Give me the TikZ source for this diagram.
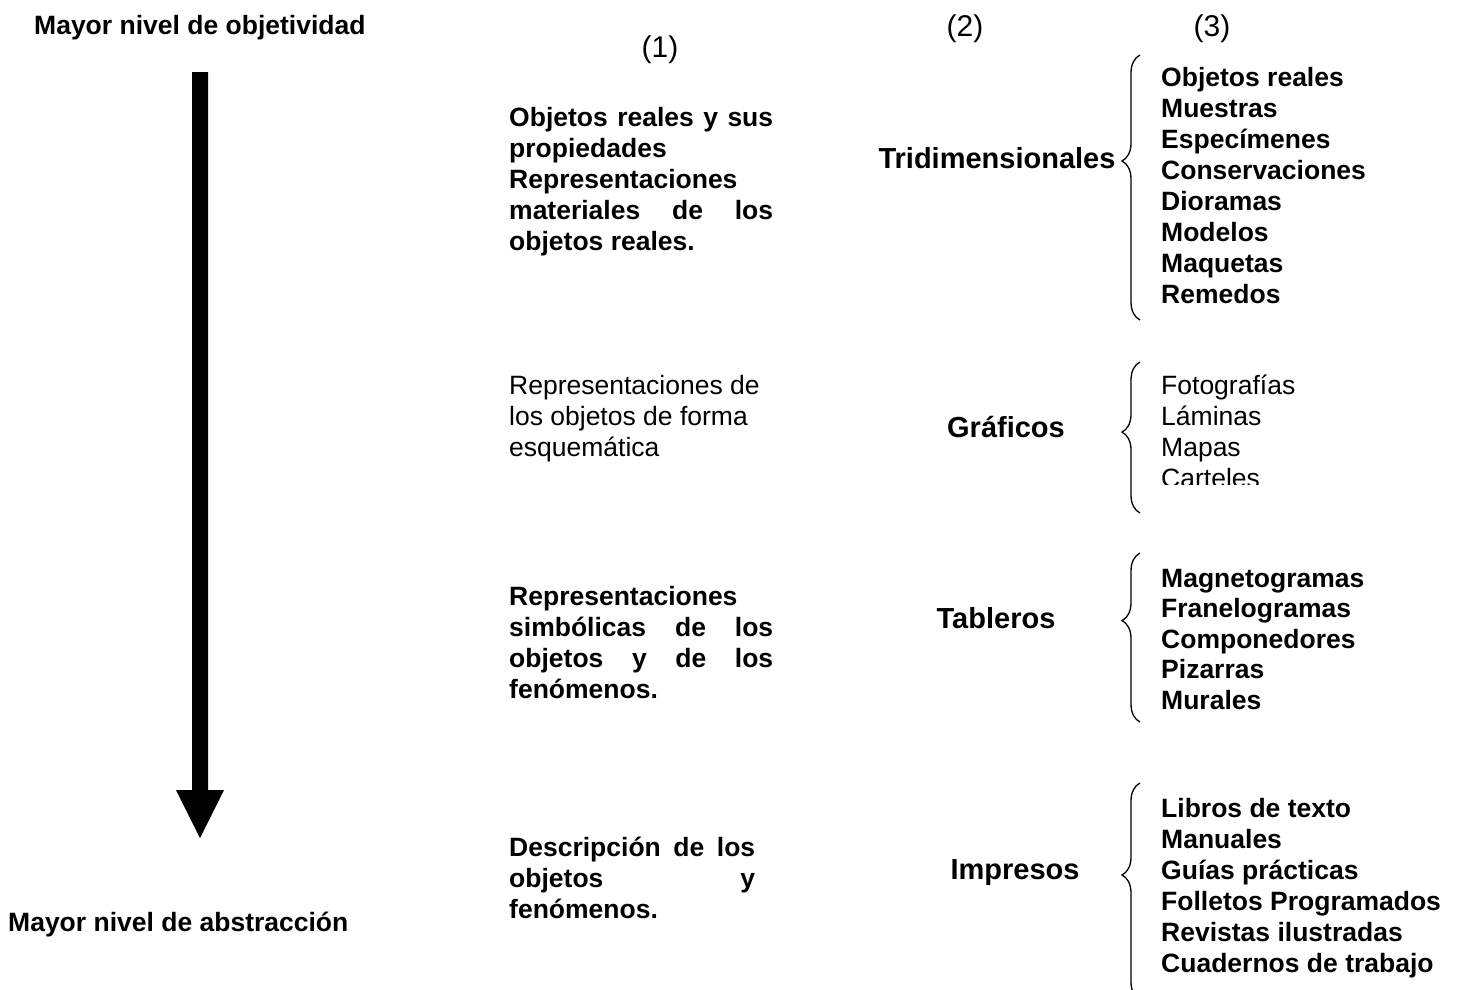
\documentclass[tikz,border=0pt]{standalone}
\usepackage{fontspec}
\setmainfont{Liberation Sans}
\usetikzlibrary{decorations.pathreplacing}
\newcommand{\jl}[1]{\makebox[264pt][s]{#1}}
\begin{document}
\begin{tikzpicture}[x=1pt,y=-1pt,
  every node/.style={inner sep=0pt},
  big/.style={font=\fontsize{26.5}{31}\selectfont\bfseries},
  plain/.style={font=\fontsize{26.5}{31}\selectfont},
  head/.style={anchor=base,font=\fontsize{30}{34}\selectfont},
  kind/.style={anchor=base,font=\fontsize{29}{34}\selectfont\bfseries},
  block/.style={anchor=north west,align=left},
  brace/.style={decorate,decoration={brace,amplitude=18pt,aspect=#1},line width=1.3pt}]
\clip (0,0) rectangle (1462,989);
% extremos de la escala
\node[big,anchor=base west] (obj) at (34,34) {Mayor nivel de objetividad};
\node[big,anchor=base west] (abs) at (8,931) {Mayor nivel de abstracción};
\fill (192,72) -- (208,72) -- (208,790) -- (224,790) -- (200,838) -- (176,790) -- (192,790) -- cycle;
% columnas
\node[head] (c1) at (660,57) {(1)};
\node[head] (c2) at (965,36) {(2)};
\node[head] (c3) at (1212,36) {(3)};
\node[big,block] (d1) at (509,107) {\jl{Objetos reales y sus}\\propiedades\\Representaciones\\\jl{materiales de los}\\objetos reales.};
\node[plain,block] (d2) at (509,375) {Representaciones de\\los objetos de forma\\esquemática};
\node[big,block] (d3) at (509,586) {Representaciones\\\jl{simbólicas de los}\\\jl{objetos y de los}\\fenómenos.};
\node[big,block] (d4) at (509,837) {\makebox[246pt][s]{Descripción de los}\\\makebox[246pt][s]{objetos y}\\fenómenos.};
\node[kind] (k1) at (997,168) {Tridimensionales};
\node[kind] (k2) at (1006,437) {Gráficos};
\node[kind] (k3) at (996,628) {Tableros};
\node[kind] (k4) at (1015,879) {Impresos};
% llaves
\draw[brace=0.6] (1140,320) -- (1140,55);
\draw[brace=0.536] (1140,513) -- (1140,362);
\draw[brace=0.6] (1140,722) -- (1140,553);
\draw[brace=0.576] (1140,1000) -- (1140,783);
% listas
\foreach \t [count=\i from 0] in {Objetos reales,Muestras,Especímenes,Conservaciones,Dioramas,Modelos,Maquetas,Remedos}
  \node[big,anchor=base west] (a\i) at (1161,86+31*\i) {\t};
\begin{scope}
  \clip (1150,370) rectangle (1320,484);
  \foreach \t [count=\i from 0] in {Fotografías,Láminas,Mapas,Carteles}
    \node[plain,anchor=base west] (b\i) at (1161,394+31*\i) {\t};
\end{scope}
\foreach \t [count=\i from 0] in {Magnetogramas,Franelogramas,Componedores,Pizarras,Murales}
  \node[big,anchor=base west] (m\i) at (1161,587+30.5*\i) {\t};
\foreach \t [count=\i from 0] in {Libros de texto,Manuales,Guías prácticas,Folletos Programados,Revistas ilustradas,Cuadernos de trabajo}
  \node[big,anchor=base west] (p\i) at (1161,817+31*\i) {\t};
\end{tikzpicture}
\end{document}
